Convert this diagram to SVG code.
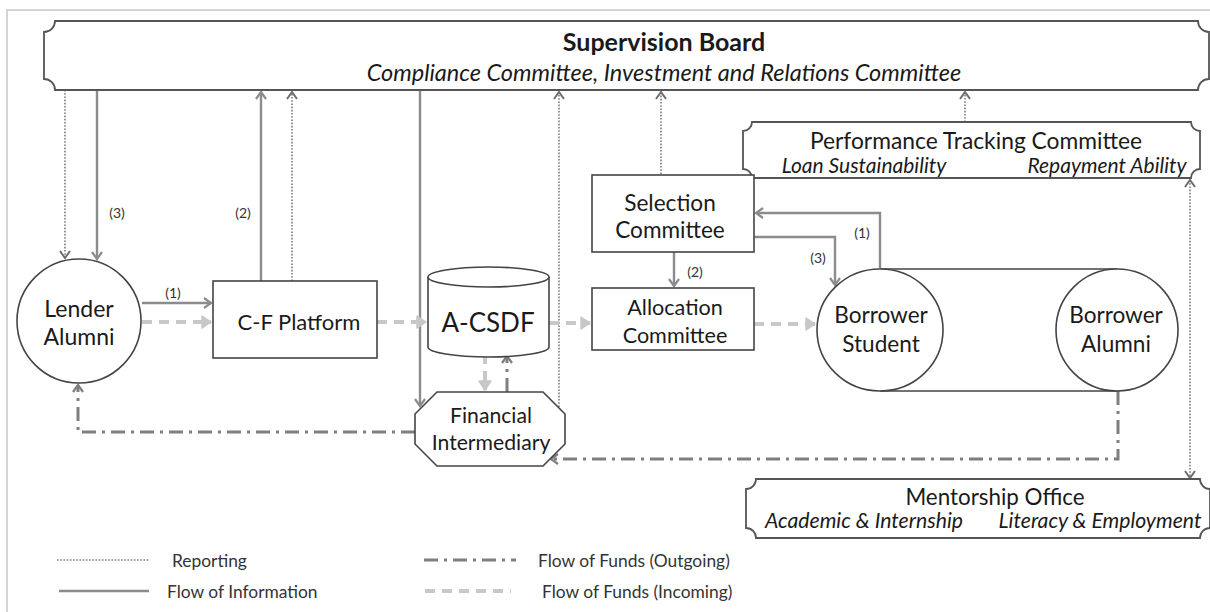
<svg xmlns="http://www.w3.org/2000/svg" width="1210" height="612" viewBox="0 0 1210 612">
<style>
  .node { fill: #ffffff; stroke: #444444; stroke-width: 1.6; }
  .plaque { fill: #ffffff; stroke: #555555; stroke-width: 1.8; }
  .t { font-family: Lato, "Open Sans", "Liberation Sans", sans-serif; fill: #1a1a1a; text-anchor: middle; }
  .it { font-style: italic; }
  .lbl { font-family: Lato, "Open Sans", "Liberation Sans", sans-serif; fill: #333333; font-size: 14px; text-anchor: middle; }
  .leg { font-family: Lato, "Open Sans", "Liberation Sans", sans-serif; fill: #333333; font-size: 17.4px; }
  .info { fill: none; stroke: #8c8c8c; stroke-width: 2.4; }
  .rep { fill: none; stroke: #7a7a7a; stroke-width: 1.6; stroke-dasharray: 1.6 1.6; }
  .out { fill: none; stroke: #7f7f7f; stroke-width: 3; stroke-dasharray: 14 6 3 6; }
  .in { fill: none; stroke: #c8c8c8; stroke-width: 4; stroke-dasharray: 10 7; }
  .frame { fill: none; stroke: #c8c8c8; stroke-width: 1.5; }
</style>
<defs>
  <marker id="aInfo" markerUnits="userSpaceOnUse" viewBox="-10 -7 12 14" markerWidth="12" markerHeight="14" refX="0" refY="0" orient="auto">
    <path d="M-7,-5 L0,0 L-7,5" fill="none" stroke="#8c8c8c" stroke-width="2.2"/>
  </marker>
  <marker id="aRep" markerUnits="userSpaceOnUse" viewBox="-10 -7 12 14" markerWidth="12" markerHeight="14" refX="0" refY="0" orient="auto-start-reverse">
    <path d="M-7,-5 L0,0 L-7,5" fill="none" stroke="#6e6e6e" stroke-width="2"/>
  </marker>
  <marker id="aOut" markerUnits="userSpaceOnUse" viewBox="-10 -7 12 14" markerWidth="12" markerHeight="14" refX="0" refY="0" orient="auto">
    <path d="M-7,-5 L0,0 L-7,5" fill="none" stroke="#7f7f7f" stroke-width="2.2"/>
  </marker>
  <marker id="aIn" markerUnits="userSpaceOnUse" viewBox="-12 -8 14 16" markerWidth="14" markerHeight="16" refX="0" refY="0" orient="auto">
    <path d="M-9,-6 L0,0 L-9,6 Z" fill="#c8c8c8" stroke="#c8c8c8" stroke-width="1.5" stroke-linejoin="round"/>
  </marker>
</defs>

<g id="frame">
  <path class="frame" d="M7,612 V10 H1210"/>
</g>

<g id="connectors">
  <path class="rep" d="M65,90 V258" marker-end="url(#aRep)"/>
  <path class="info" d="M97,90 V259" marker-end="url(#aInfo)"/>
  <path class="info" d="M261,281 V92" marker-end="url(#aInfo)"/>
  <path class="rep" d="M292,281 V92" marker-end="url(#aRep)"/>
  <path class="info" d="M420,90 V406" marker-end="url(#aInfo)"/>
  <path class="rep" d="M559,407 V92" marker-end="url(#aRep)"/>
  <path class="rep" d="M661,174 V92" marker-end="url(#aRep)"/>
  <path class="rep" d="M965,122 V92" marker-end="url(#aRep)"/>
  <path class="rep" d="M1190,180 V478" marker-start="url(#aRep)" marker-end="url(#aRep)"/>
  <path class="info" d="M142,303 H211" marker-end="url(#aInfo)"/>
  <path class="in" d="M142,322 H211" marker-end="url(#aIn)"/>
  <path class="in" d="M377,322 H426" marker-end="url(#aIn)"/>
  <path class="in" d="M549,323 H590" marker-end="url(#aIn)"/>
  <path class="in" d="M754,324 H815" marker-end="url(#aIn)"/>
  <path class="in" d="M485,354 V390" marker-end="url(#aIn)"/>
  <path class="out" d="M507,392 V356" marker-end="url(#aOut)"/>
  <path class="out" d="M415,432 H78 V385" marker-end="url(#aOut)"/>
  <path class="out" d="M1118,391 V459 H551" marker-end="url(#aOut)"/>
  <path class="info" d="M880,268 V213 H756" marker-end="url(#aInfo)"/>
  <path class="info" d="M754,237 H835 V285" marker-end="url(#aInfo)"/>
  <path class="info" d="M674,252 V286" marker-end="url(#aInfo)"/>
  <text class="lbl" x="117" y="218">(3)</text>
  <text class="lbl" x="243" y="218">(2)</text>
  <text class="lbl" x="173" y="298">(1)</text>
  <text class="lbl" x="695" y="277">(2)</text>
  <text class="lbl" x="862" y="238">(1)</text>
  <text class="lbl" x="818" y="263">(3)</text>
</g>

<g id="supervision-board">
  <path class="plaque" d="M55,21 L1198,21 A11,11 0 0 0 1209,32 L1209,79 A11,11 0 0 0 1198,90 L55,90 A11,11 0 0 0 44,79 L44,32 A11,11 0 0 0 55,21 Z"/>
  <text class="t" x="664" y="51" font-size="25" font-weight="bold">Supervision Board</text>
  <text class="t it" x="664" y="81" font-size="23.5">Compliance Committee, Investment and Relations Committee</text>
</g>

<g id="performance-tracking">
  <path class="plaque" d="M752,122 L1191,122 A9,9 0 0 0 1200,131 L1200,169 A9,9 0 0 0 1191,178 L752,178 A9,9 0 0 0 743,169 L743,131 A9,9 0 0 0 752,122 Z"/>
  <text class="t" x="976" y="149" font-size="22.8">Performance Tracking Committee</text>
  <text class="t it" x="864" y="173" font-size="21">Loan Sustainability</text>
  <text class="t it" x="1107" y="173" font-size="21">Repayment Ability</text>
</g>

<g id="lender-alumni">
  <circle class="node" cx="79" cy="321" r="62"/>
  <text class="t" x="79" y="317" font-size="23">Lender</text>
  <text class="t" x="79" y="345" font-size="23">Alumni</text>
</g>

<g id="cf-platform">
  <rect class="node" x="213" y="281" width="164" height="77"/>
  <text class="t" x="299" y="330" font-size="22">C-F Platform</text>
</g>

<g id="a-csdf">
  <path class="node" d="M428,277 L428,347 A60.5,10 0 0 0 549,347 L549,277"/>
  <ellipse class="node" cx="488.5" cy="277" rx="60.5" ry="10"/>
  <text class="t" x="488" y="332" font-size="26">A-CSDF</text>
</g>

<g id="financial-intermediary">
  <polygon class="node" points="437,392 543,392 565,414 565,444 543,466 437,466 415,444 415,414"/>
  <text class="t" x="491" y="423" font-size="21.2">Financial</text>
  <text class="t" x="491" y="450" font-size="21.2">Intermediary</text>
</g>

<g id="selection-committee">
  <rect class="node" x="592" y="175" width="162" height="77"/>
  <text class="t" x="670" y="211" font-size="22.6">Selection</text>
  <text class="t" x="670" y="238" font-size="22.6">Committee</text>
</g>

<g id="allocation-committee">
  <rect class="node" x="592" y="288" width="162" height="62"/>
  <text class="t" x="675" y="315" font-size="21.6">Allocation</text>
  <text class="t" x="675" y="343" font-size="21.6">Committee</text>
</g>

<g id="borrower-group">
  <path class="node" d="M880,269 H1117 M880,391 H1117" fill="none"/>
</g>

<g id="borrower-student">
  <ellipse class="node" cx="880" cy="330" rx="63" ry="61"/>
  <text class="t" x="881" y="323" font-size="22.6">Borrower</text>
  <text class="t" x="881" y="352" font-size="22.6">Student</text>
</g>

<g id="borrower-alumni">
  <circle class="node" cx="1117" cy="330" r="61"/>
  <text class="t" x="1116" y="323" font-size="22.6">Borrower</text>
  <text class="t" x="1116" y="352" font-size="22.6">Alumni</text>
</g>

<g id="mentorship-office">
  <path class="plaque" d="M756,479 L1200,479 A10,10 0 0 0 1210,489 L1210,528 A10,10 0 0 0 1200,538 L756,538 A10,10 0 0 0 746,528 L746,489 A10,10 0 0 0 756,479 Z"/>
  <text class="t" x="995" y="505" font-size="22.4">Mentorship Office</text>
  <text class="t it" x="864" y="528" font-size="21.2">Academic &amp; Internship</text>
  <text class="t it" x="1100" y="528" font-size="21.2">Literacy &amp; Employment</text>
</g>

<g id="legend">
  <path class="rep" d="M57,560 H149" stroke-dasharray="1.2 1.2" stroke-width="1.4"/>
  <text class="leg" x="172" y="567">Reporting</text>
  <path class="info" d="M59,591 H149"/>
  <text class="leg" x="167" y="598">Flow of Information</text>
  <path class="out" d="M424,560 H516"/>
  <text class="leg" x="538" y="567">Flow of Funds (Outgoing)</text>
  <path class="in" d="M425,591 H511" stroke-width="3" stroke-dasharray="8 8"/>
  <text class="leg" x="542" y="598">Flow of Funds (Incoming)</text>
</g>
</svg>
